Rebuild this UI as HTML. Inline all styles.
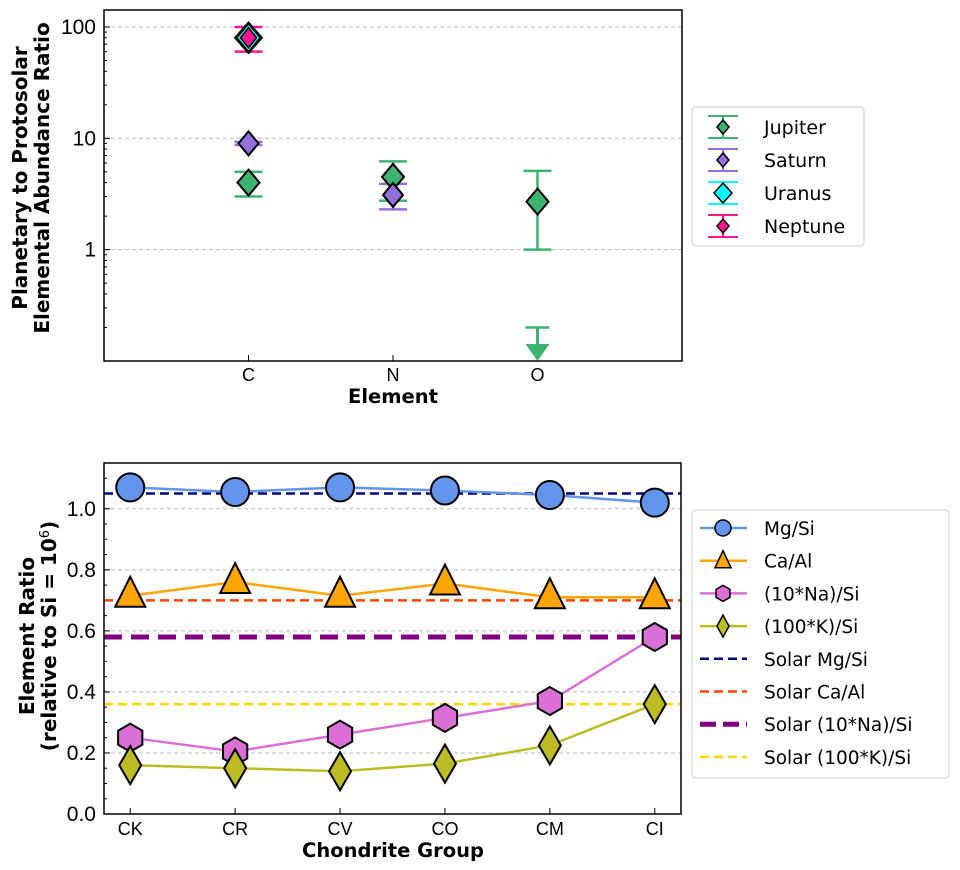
<!DOCTYPE html>
<html><head><meta charset="utf-8"><style>
body{margin:0;background:#fff}
svg{display:block;font-family:"Liberation Sans",sans-serif}
.dv{font-family:"DejaVu Sans","Liberation Sans",sans-serif}
</style></head><body>
<svg id="s" width="960" height="870" viewBox="0 0 960 870"></svg>
<script>
// ---- Top chart data ----
const elements = ["C","N","O"];
const jupVal = [4.0, 4.5, 2.7];
const jupLo = [3.0, 2.75, 1.0];
const jupHi = [5.0, 6.2, 5.1];
const satVal = [9.0, 3.1];
const satLo = [8.7, 2.3];
const satHi = [9.3, 3.9];
const uraVal = [80];
const uraLo = [60];
const uraHi = [100];
const nepVal = [80];
const nepLo = [60];
const nepHi = [100];
const oLimit = 0.2;
const topTicks = [1, 10, 100];
const topTickLabels = ["1","10","100"];
// ---- Bottom chart data ----
const groups = ["CK","CR","CV","CO","CM","CI"];
const mgsi = [1.07, 1.055, 1.07, 1.06, 1.045, 1.02];
const caal = [0.715, 0.76, 0.715, 0.755, 0.71, 0.71];
const nasi = [0.25, 0.205, 0.26, 0.315, 0.37, 0.58];
const ksi = [0.16, 0.15, 0.14, 0.165, 0.225, 0.36];
const solarMg = 1.05, solarCa = 0.70, solarNa = 0.58, solarK = 0.36;
const botTicks = [0.0,0.2,0.4,0.6,0.8,1.0];
const botTickLabels = ["0.0","0.2","0.4","0.6","0.8","1.0"];

const svg = document.getElementById('s');
const NS = "http://www.w3.org/2000/svg";
function mk(tag, attrs, parent, name, inter){
  const e = document.createElementNS(NS, tag);
  for (const k in attrs) e.setAttribute(k, attrs[k]);
  
  
  (parent||svg).appendChild(e); return e;
}
function txt(x,y,s,attrs,name){ const t = mk('text', Object.assign({x:x,y:y},attrs), svg, name, false); t.textContent = s; return t; }

// top axes
const T = {l:104, r:682, t:10, b:361};
const txX = i => T.l + (i+1)*(T.r-T.l)/4;
const lmin = Math.log10(0.1), lmax = Math.log10(142);
const tyY = v => T.b - (Math.log10(v)-lmin)/(lmax-lmin)*(T.b-T.t);
topTicks.forEach((v,i)=>{
  mk('line',{x1:T.l,x2:T.r,y1:tyY(v),y2:tyY(v),stroke:'#bbb','stroke-dasharray':'4,3','stroke-width':1},svg,'top-gridline',false);
  mk('line',{x1:T.l,x2:T.l+6,y1:tyY(v),y2:tyY(v),stroke:'#000'},svg,'top-y-tick',false);
  txt(T.l-8,tyY(v)+7,topTickLabels[i],{'text-anchor':'end','font-size':21},'top-y-tick-label');
});
for (let d=-1; d<2; d++) for (let m=2;m<10;m++){ const v=m*Math.pow(10,d); if(v<0.1||v>142) continue;
  mk('line',{x1:T.l,x2:T.l+3,y1:tyY(v),y2:tyY(v),stroke:'#000'},svg,'top-y-minor-tick',false);}
elements.forEach((e,i)=>{
  mk('line',{x1:txX(i),x2:txX(i),y1:T.b,y2:T.b-6,stroke:'#000'},svg,'top-x-tick',false);
  txt(txX(i),T.b+20,e,{'text-anchor':'middle','font-size':18},'top-x-tick-label');
});
function errbar(x,lo,hi,col,w,name){
  mk('line',{x1:x,x2:x,y1:tyY(lo),y2:tyY(hi),stroke:col,'stroke-width':2.5},svg,name+'-errorbar',false);
  [lo,hi].forEach(v=>mk('line',{x1:x-14,x2:x+14,y1:tyY(v),y2:tyY(v),stroke:col,'stroke-width':2.5},svg,name+'-errorcap',false));
}
function diamond(x,y,h,w,col,name,sw){
  return mk('polygon',{points:`${x},${y-h} ${x+w},${y} ${x},${y+h} ${x-w},${y}`,fill:col,stroke:'#000','stroke-width':sw||2},svg,name,false);
}
const GREEN='#3cb371', PURP='#9370db', CY='#00ffff', PINK='#ff1493';
nepVal.forEach((v,i)=>errbar(txX(i),nepLo[i],nepHi[i],PINK,2,'neptune'));
jupVal.forEach((v,i)=>errbar(txX(i),jupLo[i],jupHi[i],GREEN,2,'jupiter'));
satVal.forEach((v,i)=>errbar(txX(i),satLo[i],satHi[i],PURP,2,'saturn'));
(function(){const x=txX(2);
  mk('line',{x1:x,x2:x,y1:tyY(oLimit),y2:T.b-14,stroke:GREEN,'stroke-width':3},svg,'oxygen-upper-limit',false);
  mk('line',{x1:x-12,x2:x+12,y1:tyY(oLimit),y2:tyY(oLimit),stroke:GREEN,'stroke-width':2.5},svg,'oxygen-limit-cap',false);
  mk('polygon',{points:`${x-12},${T.b-17} ${x+12},${T.b-17} ${x},${T.b}`,fill:GREEN},svg,'oxygen-limit-arrow',false);
})();
jupVal.forEach((v,i)=>diamond(txX(i),tyY(v),13,11,GREEN,'jupiter-point'));
satVal.forEach((v,i)=>diamond(txX(i),tyY(v),12,10,PURP,'saturn-point'));
uraVal.forEach((v,i)=>{diamond(txX(i),tyY(v),16,14,'#000','uranus-point-outline',1);diamond(txX(i),tyY(v),13,11,CY,'uranus-point',0.5);});
nepVal.forEach((v,i)=>diamond(txX(i),tyY(v),10,8,PINK,'neptune-point',1.5));
mk('rect',{x:T.l,y:T.t,width:T.r-T.l,height:T.b-T.t,fill:'none',stroke:'#000','stroke-width':1.5},svg,'top-plot-frame',false);
txt(393,403,'Element',{'text-anchor':'middle','font-size':19.5,'font-weight':'bold','class':'dv'},'top-x-axis-title');
txt(0,0,'Planetary to Protosolar',{'text-anchor':'middle','font-size':20,'font-weight':'bold','class':'dv',transform:'translate(27,178) rotate(-90)'},'top-y-axis-title-line1');
txt(0,0,'Elemental Abundance Ratio',{'text-anchor':'middle','font-size':20,'font-weight':'bold','class':'dv',transform:'translate(49,178) rotate(-90)'},'top-y-axis-title-line2');
// top legend
mk('rect',{x:692,y:107,width:172,height:139,rx:4,fill:'#fff',stroke:'#ccc'},svg,'top-legend',false);
[["Jupiter",GREEN,127],["Saturn",PURP,160],["Uranus",CY,193],["Neptune",PINK,226]].forEach(([n,c,y])=>{
  mk('line',{x1:723,x2:723,y1:y-11,y2:y+11,stroke:c,'stroke-width':2},svg,'legend-errorbar',false);
  mk('line',{x1:708,x2:738,y1:y-11,y2:y-11,stroke:c,'stroke-width':2},svg,'legend-cap',false);
  mk('line',{x1:708,x2:738,y1:y+11,y2:y+11,stroke:c,'stroke-width':2},svg,'legend-cap',false);
  const s = n==='Uranus'?9:6;
  diamond(723,y,s+1,s,c,'legend-marker',1.5);
  txt(764,y+7,n,{'font-size':19,'class':'dv'},'legend-entry-'+n.toLowerCase());
});

// bottom axes
const B = {l:104, r:681, t:463, b:814};
const bxX = i => B.l + (i+0.25)*(B.r-B.l)/5.5;
const byY = v => B.b - v/1.15*(B.b-B.t);
for (let k=1;k<23;k++){const v=k*0.05; mk('line',{x1:B.l,x2:B.l+3,y1:byY(v),y2:byY(v),stroke:'#000'},svg,'bottom-y-minor-tick',false);}
botTicks.forEach((v,i)=>{
  if(v>0) mk('line',{x1:B.l,x2:B.r,y1:byY(v),y2:byY(v),stroke:'#bbb','stroke-dasharray':'4,3'},svg,'bottom-gridline',false);
  mk('line',{x1:B.l,x2:B.l+6,y1:byY(v),y2:byY(v),stroke:'#000'},svg,'bottom-y-tick',false);
  txt(B.l-8,byY(v)+7,botTickLabels[i],{'text-anchor':'end','font-size':21},'bottom-y-tick-label');
});
groups.forEach((g,i)=>{
  mk('line',{x1:bxX(i),x2:bxX(i),y1:B.b,y2:B.b-6,stroke:'#000'},svg,'bottom-x-tick',false);
  txt(bxX(i),B.b+21,g,{'text-anchor':'middle','font-size':18},'bottom-x-tick-label');
});
function hline(v,col,w,dash,name){ mk('line',{x1:B.l,x2:B.r,y1:byY(v),y2:byY(v),stroke:col,'stroke-width':w,'stroke-dasharray':dash},svg,name,false); }
hline(solarMg,'#000080',2.5,'9,5','solar-mg-si-line');
hline(solarCa,'#ff4500',2.5,'9,5','solar-ca-al-line');
hline(solarNa,'#800080',5,'18,9','solar-na-si-line');
hline(solarK,'#ffd700',2.5,'9,5','solar-k-si-line');
function series(vals,col,name,shape){
  mk('polyline',{points:vals.map((v,i)=>bxX(i)+','+byY(v)).join(' '),fill:'none',stroke:col,'stroke-width':2.5},svg,name+'-line',false);
  vals.forEach((v,i)=>{const x=bxX(i),y=byY(v);
    if(shape==='circle') mk('circle',{cx:x,cy:y,r:14,fill:col,stroke:'#000','stroke-width':2},svg,name+'-point',false);
    else if(shape==='tri') mk('polygon',{points:`${x},${y-19} ${x+15},${y+11} ${x-15},${y+11}`,fill:col,stroke:'#000','stroke-width':2},svg,name+'-point',false);
    else if(shape==='hex'){let p=[];for(let k=0;k<6;k++){const a=Math.PI/2+k*Math.PI/3;p.push((x+14*Math.cos(a))+','+(y+14*Math.sin(a)));}
      mk('polygon',{points:p.join(' '),fill:col,stroke:'#000','stroke-width':2},svg,name+'-point',false);}
    else diamond(x,y,19,11,col,name+'-point');
  });
}
series(mgsi,'#6495ed','mg-si','circle');
series(caal,'#ffa500','ca-al','tri');
series(nasi,'#da70d6','na-si','hex');
series(ksi,'#bcbd22','k-si','dia');
mk('rect',{x:B.l,y:B.t,width:B.r-B.l,height:B.b-B.t,fill:'none',stroke:'#000','stroke-width':1.5},svg,'bottom-plot-frame',false);
txt(393,857,'Chondrite Group',{'text-anchor':'middle','font-size':19.5,'font-weight':'bold','class':'dv'},'bottom-x-axis-title');
txt(0,0,'Element Ratio',{'text-anchor':'middle','font-size':20,'font-weight':'bold','class':'dv',transform:'translate(34,636) rotate(-90)'},'bottom-y-axis-title-line1');
const t2 = txt(0,0,'(relative to Si = 10',{'text-anchor':'middle','font-size':20,'font-weight':'bold','class':'dv',transform:'translate(56,636) rotate(-90)'},'bottom-y-axis-title-line2');
const ts = document.createElementNS(NS,'tspan'); ts.setAttribute('baseline-shift','super'); ts.setAttribute('font-size','13'); ts.setAttribute('font-weight','normal'); ts.textContent='6';
  t2.appendChild(ts);
const ts2 = document.createElementNS(NS,'tspan'); ts2.textContent=')';
  t2.appendChild(ts2);
// bottom legend
mk('rect',{x:692,y:510,width:257,height:268,rx:4,fill:'#fff',stroke:'#ccc'},svg,'bottom-legend',false);
const rows=[["Mg/Si",'#6495ed','circle'],["Ca/Al",'#ffa500','tri'],["(10*Na)/Si",'#da70d6','hex'],["(100*K)/Si",'#bcbd22','dia'],
 ["Solar Mg/Si",'#000080','d'],["Solar Ca/Al",'#ff4500','d'],["Solar (10*Na)/Si",'#800080','D'],["Solar (100*K)/Si",'#ffd700','d']];
rows.forEach(([n,c,s],i)=>{const y=528+i*32.7, x=723;
  if(s==='d') mk('line',{x1:700,x2:747,y1:y,y2:y,stroke:c,'stroke-width':2.5,'stroke-dasharray':'9,5'},svg,'legend-line',false);
  else if(s==='D') mk('line',{x1:700,x2:747,y1:y,y2:y,stroke:c,'stroke-width':5,'stroke-dasharray':'16,7'},svg,'legend-line',false);
  else {
    mk('line',{x1:700,x2:747,y1:y,y2:y,stroke:c,'stroke-width':2.5},svg,'legend-line',false);
    if(s==='circle') mk('circle',{cx:x,cy:y,r:8,fill:c,stroke:'#000','stroke-width':1.5},svg,'legend-marker',false);
    else if(s==='tri') mk('polygon',{points:`${x},${y-10} ${x+8},${y+7} ${x-8},${y+7}`,fill:c,stroke:'#000','stroke-width':1.5},svg,'legend-marker',false);
    else if(s==='hex'){let p=[];for(let k=0;k<6;k++){const a=Math.PI/2+k*Math.PI/3;p.push((x+8*Math.cos(a))+','+(y+8*Math.sin(a)));}
      mk('polygon',{points:p.join(' '),fill:c,stroke:'#000','stroke-width':1.5},svg,'legend-marker',false);}
    else diamond(x,y,11,6,c,'legend-marker',1.5);
  }
  txt(764,y+7,n,{'font-size':18.5,'class':'dv'},'legend-entry');
});
</script>
</body></html>
